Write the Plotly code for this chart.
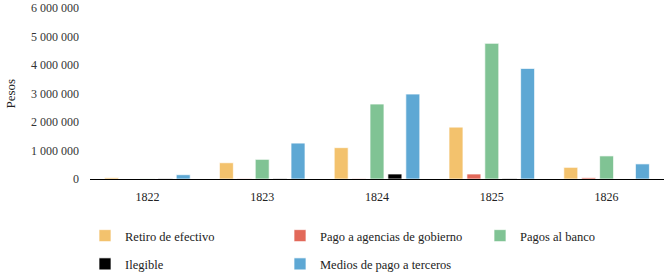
import plotly.graph_objects as go

years = ["1822", "1823", "1824", "1825", "1826"]
retiro = [45000, 570000, 1100000, 1820000, 410000]
agencias = [0, 12000, 12000, 175000, 45000]
banco = [6000, 690000, 2630000, 4760000, 810000]
ilegible = [10000, 12000, 175000, 15000, 0]
terceros = [150000, 1260000, 2980000, 3880000, 530000]

# (name, values, colour, legend column)
series = [
    ("Retiro de efectivo", retiro, "#F3C26D", "legend"),
    ("Pago a agencias de gobierno", agencias, "#E2695A", "legend2"),
    ("Pagos al banco", banco, "#80C394", "legend3"),
    ("Ilegible", ilegible, "#000000", "legend"),
    ("Medios de pago a terceros", terceros, "#5EA8D4", "legend2"),
]

font_family = "Liberation Serif"

fig = go.Figure()
for name, vals, color, lg in series:
    fig.add_trace(go.Bar(
        x=years, y=vals, name=name, legendgroup=name,
        marker=dict(color=color, line=dict(color="rgba(255,255,255,0.7)", width=1)),
        legend=lg, hoverinfo="skip",
    ))

W, H = 667, 272
L, R, T, B = 90, 3, 8, 93
PW = W - L - R


def px_x(px):
    return (px - L) / PW


legend_common = dict(
    orientation="v", tracegroupgap=9,
    font=dict(family=font_family, size=12.5, color="#222222"),
    bgcolor="rgba(0,0,0,0)", itemclick=False, itemdoubleclick=False,
    xref="paper", yref="container",
    xanchor="left", yanchor="top", traceorder="grouped",
    y=(H - 221) / H,
)

fig.update_layout(
    width=W, height=H,
    margin=dict(l=L, r=R, t=T, b=B),
    paper_bgcolor="white", plot_bgcolor="white",
    barmode="group", bargap=0.22, bargroupgap=0.22,
    separators=", ",
    font=dict(family=font_family, size=12, color="#333333"),
    legend=dict(x=px_x(85), **legend_common),
    legend2=dict(x=px_x(280), **legend_common),
    legend3=dict(x=px_x(480), **legend_common),
    xaxis=dict(
        showline=True, linecolor="#000000", linewidth=1, automargin=False,
        ticks="", tickfont=dict(family=font_family, size=12, color="#222222"),
        showgrid=False, ticklabelstandoff=7,
    ),
    yaxis=dict(
        range=[0, 6000000], dtick=1000000, tickformat=",d", automargin=False,
        showgrid=False, showline=False, zeroline=False,
        tickfont=dict(family=font_family, size=12, color="#333333"),
        ticks="", ticklabelstandoff=10,
    ),
    annotations=[dict(
        text="Pesos", textangle=-90, xref="paper", yref="paper",
        x=px_x(10), y=0.5, showarrow=False, xanchor="center", yanchor="middle",
        font=dict(family=font_family, size=13, color="#222222"),
    )],
)

fig.write_html(
    "out.html",
    config={"displayModeBar": False},
    post_script="document.body.style.margin='0';",
)
